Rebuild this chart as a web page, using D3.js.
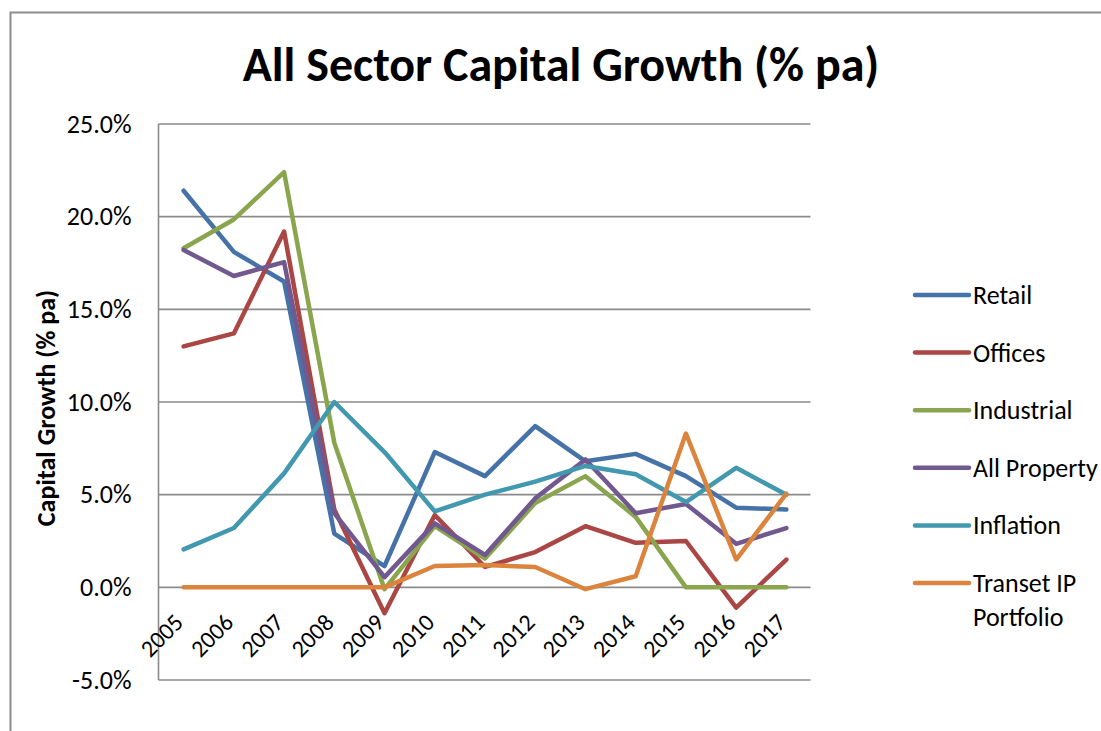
<!DOCTYPE html>
<html>
<head>
<meta charset="utf-8">
<script src="https://cdn.jsdelivr.net/npm/d3@7"></script>
<style>
  html, body { margin: 0; padding: 0; background: #fff; }
  svg { display: block; }
  text { font-family: Carlito, Calibri, Lato, "Open Sans", sans-serif; fill: #000; }
</style>
</head>
<body>
<svg id="chart" width="1101" height="731"></svg>
<script>
// Capital growth by sector, % per annum
const years = ["2005","2006","2007","2008","2009","2010","2011","2012","2013","2014","2015","2016","2017"];

const retail      = [21.4, 18.1, 16.5, 2.9, 1.15, 7.3, 6.0, 8.7, 6.8, 7.2, 6.0, 4.3, 4.2];
const offices     = [13.0, 13.7, 19.2, 4.2, -1.4, 3.9, 1.1, 1.9, 3.3, 2.4, 2.5, -1.1, 1.5];
const industrial  = [18.3, 19.85, 22.4, 7.8, -0.1, 3.3, 1.55, 4.55, 6.0, 3.8, 0.0, 0.0, 0.0];
const allProperty = [18.2, 16.8, 17.55, 4.0, 0.55, 3.45, 1.75, 4.8, 6.9, 4.0, 4.5, 2.35, 3.2];
const inflation   = [2.05, 3.2, 6.15, 10.0, 7.3, 4.1, 5.0, 5.7, 6.55, 6.1, 4.6, 6.45, 5.0];
const transetIP   = [0.0, 0.0, 0.0, 0.0, 0.0, 1.15, 1.2, 1.1, -0.1, 0.6, 8.3, 1.5, 5.05];

const seriesNames  = ["Retail", "Offices", "Industrial", "All Property", "Inflation", "Transet IP Portfolio"];
const seriesValues = [retail, offices, industrial, allProperty, inflation, transetIP];
const seriesColors = ["#4572A7", "#AA4643", "#89A54E", "#71588F", "#4198AF", "#DB843D"];

const yTicks = [-5, 0, 5, 10, 15, 20, 25];

const FONT = "Carlito, Calibri, Lato, 'Open Sans', sans-serif";
const svg = d3.select("#chart");
const W = 1101, H = 731;

// outer chart frame (top and left edges)
svg.append("path")
  .attr("d", `M10.5,${H} V12.5 H${W}`)
  .attr("fill", "none").attr("stroke", "#8c8c8c").attr("stroke-width", 2);

const plot = { left: 158.5, right: 811.5, top: 124, bottom: 680 };

const x = d3.scalePoint().domain(years).range([plot.left, plot.right]).padding(0.5);
const y = d3.scaleLinear().domain([-5, 25]).range([plot.bottom, plot.top]);

// horizontal gridlines
svg.append("g").selectAll("line").data(yTicks).join("line")
  .attr("x1", plot.left).attr("x2", plot.right - 1)
  .attr("y1", d => y(d)).attr("y2", d => y(d))
  .attr("stroke", "#8a8a8a").attr("stroke-width", 1.6);

// vertical value axis line
svg.append("line")
  .attr("x1", plot.left).attr("x2", plot.left)
  .attr("y1", plot.top).attr("y2", plot.bottom)
  .attr("stroke", "#8a8a8a").attr("stroke-width", 1.6);

// value axis labels
const yAxis = svg.append("g")
  .attr("transform", `translate(${plot.left},0)`)
  .call(d3.axisLeft(y).tickValues(yTicks).tickSize(0).tickPadding(27)
    .tickFormat(d => d.toFixed(1) + "%"));
yAxis.select(".domain").remove();
yAxis.selectAll("text")
  .style("font-family", FONT)
  .style("font-size", "26px").attr("fill", "#000");

// category labels, rotated
svg.append("g").selectAll("text").data(years).join("text")
  .attr("transform", d => `translate(${x(d) - 5},${618}) rotate(-45)`)
  .attr("text-anchor", "end")
  .attr("dominant-baseline", "central")
  .style("font-size", "24px")
  .text(d => d);

// series lines
const line = d3.line().x((d, i) => x(years[i])).y(d => y(d));
svg.append("g").selectAll("path").data(seriesValues).join("path")
  .attr("d", d => line(d))
  .attr("fill", "none")
  .attr("stroke", (d, i) => seriesColors[i])
  .attr("stroke-width", 4.5)
  .attr("stroke-linejoin", "round")
  .attr("stroke-linecap", "round");

// title
svg.append("text")
  .attr("x", 561).attr("y", 81)
  .attr("text-anchor", "middle")
  .style("font-size", "48px").style("font-weight", "bold")
  .text("All Sector Capital Growth (% pa)");

// value axis title
svg.append("text")
  .attr("transform", "translate(46,408) rotate(-90)")
  .attr("text-anchor", "middle")
  .attr("dominant-baseline", "central")
  .style("font-size", "26px").style("font-weight", "bold")
  .text("Capital Growth (% pa)");

// legend
const legendTop = 295, legendStep = 57.6;
const legend = svg.append("g");
seriesNames.forEach((name, i) => {
  const ly = legendTop + i * legendStep;
  legend.append("line")
    .attr("x1", 915).attr("x2", 969).attr("y1", ly).attr("y2", ly)
    .attr("stroke", seriesColors[i]).attr("stroke-width", 4.5)
    .attr("stroke-linecap", "round");
  const words = name === "Transet IP Portfolio" ? ["Transet IP", "Portfolio"] : [name];
  const t = legend.append("text")
    .attr("x", 973).attr("y", ly)
    .attr("dominant-baseline", "central")
    .style("font-size", "26px");
  words.forEach((w, k) => {
    t.append("tspan").attr("x", 973).attr("dy", k === 0 ? 0 : 33.5).text(w);
  });
});
</script>
</body>
</html>
